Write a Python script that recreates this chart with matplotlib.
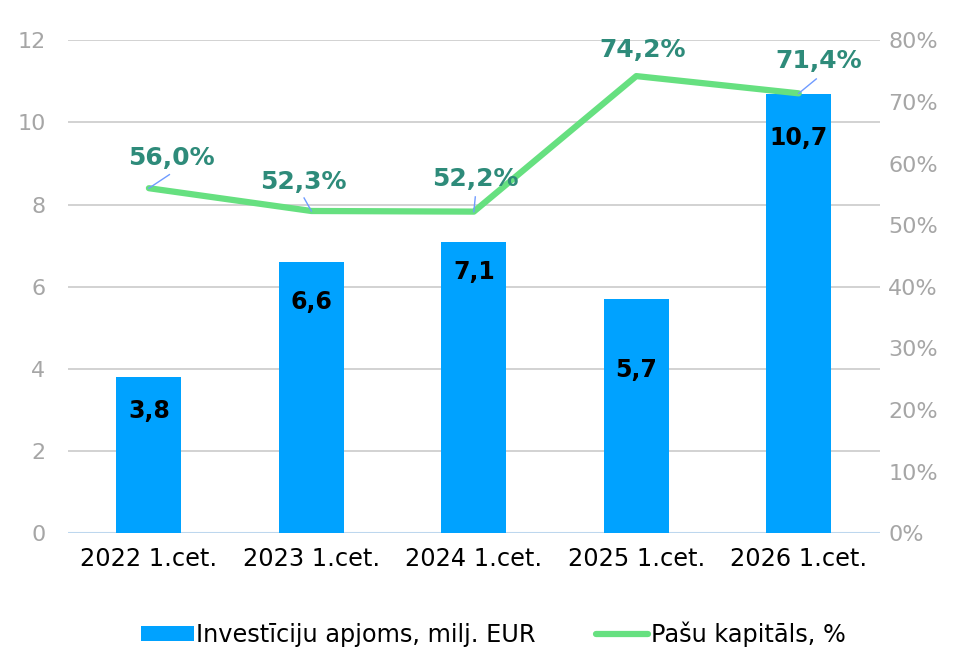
import numpy as np
import matplotlib.pyplot as plt
from matplotlib.ticker import FuncFormatter

categories = ['2022 1.cet.', '2023 1.cet.', '2024 1.cet.', '2025 1.cet.', '2026 1.cet.']
investicijas = [3.8, 6.6, 7.1, 5.7, 10.7]       # milj. EUR
pasu_kapitals = [56.0, 52.3, 52.2, 74.2, 71.4]  # %

bar_color = '#00A2FF'
line_color = '#66E080'
label_teal = '#2E8B7A'
grey = '#A6A6A6'

plt.rcParams['font.family'] = ['DejaVu Sans']

fig = plt.figure(figsize=(9.67, 6.51), dpi=100)
ax = fig.add_axes([0.070, 0.181, 0.840, 0.757])
ax2 = ax.twinx()

x = np.arange(len(categories))
bars = ax.bar(x, investicijas, width=0.4, color=bar_color, zorder=3,
              label='Investīciju apjoms, milj. EUR')

ax.set_xlim(-0.5, 4.5)
ax.set_ylim(0, 12)
ax.set_yticks(np.arange(0, 13, 2))
ax.grid(axis='y', color='#C6C6C6', lw=1.1, zorder=0)
for s in ax.spines.values():
    s.set_visible(False)
for s in ax2.spines.values():
    s.set_visible(False)
ax.axhline(0, color='#BDD7EE', lw=1.5, zorder=2)
ax.set_xticks(x)
ax.set_xticklabels(categories, fontsize=17.3, color='black')
ax.tick_params(axis='x', length=0, pad=10)
ax.tick_params(axis='y', length=0, labelsize=16, labelcolor=grey, pad=16)

# bar value labels (inside, under the top)
bar_lbl_off = [0.82, 0.98, 0.73, 1.73, 1.07]
for xi, v, off in zip(x, investicijas, bar_lbl_off):
    ax.text(xi, v - off, f'{v:.1f}'.replace('.', ','), ha='center', va='center',
            fontsize=17, fontweight='bold', color='black', zorder=4)

ax2.plot(x, pasu_kapitals, color=line_color, lw=4.5, zorder=5,
         solid_capstyle='round', label='Pašu kapitāls, %')
ax2.set_ylim(0, 80)
ax2.set_yticks(np.arange(0, 81, 10))
ax2.yaxis.set_major_formatter(FuncFormatter(lambda v, p: f'{v:.0f}%'))
ax2.tick_params(axis='y', length=0, labelsize=16, labelcolor=grey, pad=6)

# line labels with small leader lines (dx in category units, dy in %)
lbl_off = [(0.14, 4.9), (-0.05, 4.7), (0.01, 5.3), (0.04, 4.2), (0.12, 5.2)]
leader = [True, True, True, False, True]
for xi, v, (dx, dy), ld in zip(x, pasu_kapitals, lbl_off, leader):
    ax2.text(xi + dx, v + dy, f'{v:.1f}%'.replace('.', ','), ha='center', va='center',
             fontsize=18, fontweight='bold', color=label_teal, zorder=6)
    if ld:
        ax2.plot([xi, xi + dx * 0.9], [v, v + dy * 0.45], color='#6F9BFF', lw=1, zorder=6)

h1, l1 = ax.get_legend_handles_labels()
h2, l2 = ax2.get_legend_handles_labels()
fig.legend(h1 + h2, l1 + l2, loc='lower center', bbox_to_anchor=(0.51, -0.027),
           ncol=2, frameon=False, fontsize=17.3, handlelength=2.2, handleheight=0.6,
           handletextpad=0.1, columnspacing=2.5)

fig.savefig('out.png', dpi=100)
